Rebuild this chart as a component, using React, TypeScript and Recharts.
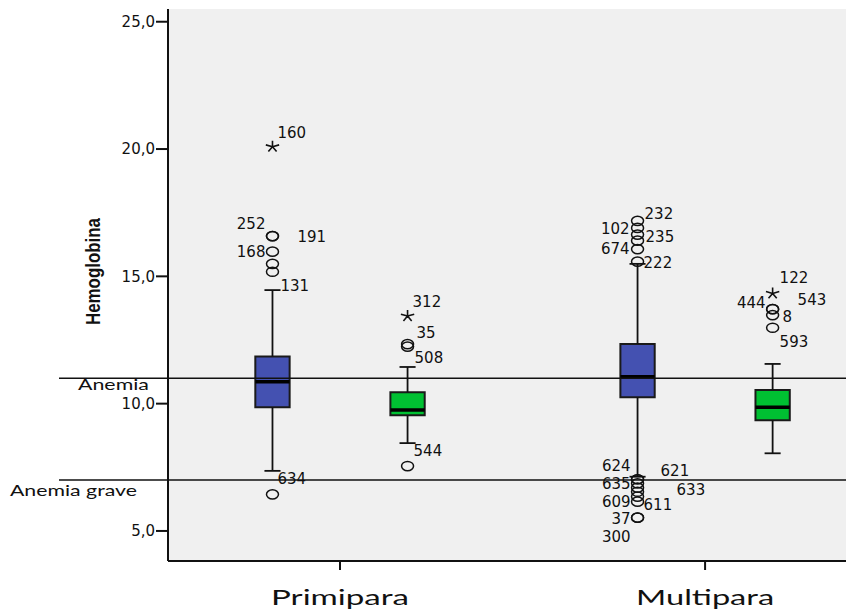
// Diagrama de caja: Hemoglobina por paridad
import React from 'react';
import {
  ComposedChart, XAxis, YAxis, CartesianGrid, ReferenceArea, ReferenceLine, Scatter,
} from 'recharts';

const GROUPS = ['Primipara', 'Multipara'];
const BOX_FILL = ['#4451b1', '#00c032'];

// una caja por entrada: primipara azul, primipara verde, multipara azul, multipara verde
const BOX_GROUP = [1, 1, 2, 2];
const BOX_SUB = [0, 1, 0, 1];
const WHISKER_LOW = [7.36, 8.45, 7.13, 8.05];
const Q1 = [9.86, 9.54, 10.25, 9.35];
const MEDIAN = [10.86, 9.75, 11.06, 9.86];
const Q3 = [11.85, 10.45, 12.34, 10.54];
const WHISKER_HIGH = [14.46, 11.44, 15.49, 11.56];

// [caja, valor, caso, extremo(*)]
const OUTLIERS: [number, number, string, boolean][] = [
  [0, 20.09, '160', true],
  [0, 16.58, '252', false],
  [0, 16.58, '191', false],
  [0, 15.97, '168', false],
  [0, 15.49, '', false],
  [0, 15.18, '131', false],
  [0, 6.44, '634', false],
  [1, 13.44, '312', true],
  [1, 12.34, '35', false],
  [1, 12.24, '508', false],
  [1, 7.55, '544', false],
  [2, 17.18, '232', false],
  [2, 16.9, '102', false],
  [2, 16.64, '235', false],
  [2, 16.4, '', false],
  [2, 16.07, '674', false],
  [2, 15.58, '222', false],
  [2, 7.03, '624', false],
  [2, 7.03, '621', false],
  [2, 6.87, '635', false],
  [2, 6.7, '633', false],
  [2, 6.54, '', false],
  [2, 6.35, '611', false],
  [2, 6.15, '609', false],
  [2, 5.52, '37', false],
  [2, 5.52, '300', false],
  [3, 14.33, '122', true],
  [3, 13.71, '444', false],
  [3, 13.71, '543', false],
  [3, 13.48, '8', false],
  [3, 12.98, '593', false],
];

const THRESHOLD_LABELS = ['Anemia', 'Anemia grave'];
const THRESHOLD_VALUES = [11, 7];
const Y_TICKS = [5, 10, 15, 20, 25];

// posición de las etiquetas de casos (px respecto al punto)
const LABEL_POS: Record<string, [number, number, string?]> = {
  '160': [5, -14], '252': [-7, -12, 'end'], '191': [25, 1], '168': [-7, 0, 'end'],
  '131': [8, 14], '634': [5, -15],
  '312': [5, -14], '35': [9, -11], '508': [7, 11], '544': [6, -15],
  '232': [7, -7], '102': [-8, 1, 'end'], '235': [8, 2], '674': [-8, 0, 'end'], '222': [6, 1],
  '624': [-7, -13, 'end'], '621': [23, -8], '635': [-7, 1, 'end'], '633': [39, 2],
  '611': [6, 8], '609': [-7, 0, 'end'], '37': [-7, 1, 'end'], '300': [-7, 19, 'end'],
  '122': [7, -15], '444': [-7, -6, 'end'], '543': [25, -9], '8': [10, 2], '593': [7, 14],
};
// etiquetas de umbral: [desplazamiento x desde el eje, línea base, ancho]
const THRESHOLD_TEXT: [number, number, number][] = [[-54.5, 12, 71], [-94.5, 16, 127]];

const X_OFF = [-0.185, 0.185];
const HALF_W = 0.047;
const CAP_W = 0.022;
const INK = '#111';
const NUM_FONT = '"DejaVu Sans", sans-serif';

const boxX = (i: number) => BOX_GROUP[i] + X_OFF[BOX_SUB[i]];

const points = OUTLIERS.map(([b, v, id, ext]) => ({ x: boxX(b), y: v, id, ext }));

function Star({ cx, cy }: { cx: number; cy: number }) {
  const arms = [-90, -18, 54, 126, 198].map(a => {
    const r = (a * Math.PI) / 180;
    return `M${cx},${cy}L${cx + 7 * Math.cos(r)},${cy + 6 * Math.sin(r)}`;
  });
  return <path d={arms.join('')} stroke={INK} strokeWidth={1.6} fill="none" />;
}

function OutlierMark(props: any) {
  const { cx, cy, payload } = props;
  const pos = LABEL_POS[payload.id];
  return (
    <g>
      {payload.ext
        ? <Star cx={cx} cy={cy} />
        : <ellipse cx={cx} cy={cy} rx={6} ry={4.6} fill="none" stroke={INK} strokeWidth={1.5} />}
      {pos && (
        <text x={cx + pos[0]} y={cy + pos[1]} dominantBaseline="central" textAnchor={pos[2] ?? 'start'}
          fontFamily={NUM_FONT} fontSize={15} fill={INK}>{payload.id}</text>
      )}
    </g>
  );
}

function XTick({ x, y, payload }: any) {
  return (
    <text x={x} y={y + 33} textAnchor="middle" fontFamily="Lato, sans-serif" fontSize={22} fill={INK}
      textLength={138} lengthAdjust="spacingAndGlyphs">{GROUPS[payload.value - 1]}</text>
  );
}

export default function App() {
  return (
    <div style={{ position: 'absolute', left: 0, top: 0, background: '#fff' }}>
      <ComposedChart width={846} height={611} margin={{ top: 9, right: 0, bottom: 0, left: 0 }}>
        <CartesianGrid fill="#f0f0f0" stroke="none" horizontal={false} vertical={false} />
        <XAxis type="number" dataKey="x" domain={[0.5288, 2.386]} ticks={[1, 2]} allowDataOverflow
          height={50} axisLine={{ stroke: INK, strokeWidth: 2 }} tickLine={{ stroke: INK, strokeWidth: 2 }}
          tickSize={9} tick={<XTick />} />
        <YAxis type="number" dataKey="y" domain={[3.82, 25.5]} ticks={Y_TICKS} allowDataOverflow width={168}
          axisLine={{ stroke: INK, strokeWidth: 2 }} tickLine={{ stroke: INK, strokeWidth: 2 }}
          tickSize={12} tickMargin={1}
          tick={{ fontFamily: NUM_FONT, fontSize: 15, fill: INK }}
          tickFormatter={(v: number) => v.toFixed(1).replace('.', ',')}
          label={{
            value: 'Hemoglobina',
            content: (p: any) => {
              const vb = p.viewBox;
              const cx = vb.x + 93;
              const cy = vb.y + 262.5;
              return (
                <text x={cx} y={cy} transform={`rotate(-90 ${cx} ${cy})`} textAnchor="middle"
                  dominantBaseline="central" fontFamily='"Liberation Sans", Arial, sans-serif'
                  fontWeight="bold" fontSize={20} fill={INK} textLength={107}
                  lengthAdjust="spacingAndGlyphs">Hemoglobina</text>
              );
            },
          }} />

        {Q1.map((q1, i) => (
          <ReferenceArea key={`box${i}`} x1={boxX(i) - HALF_W} x2={boxX(i) + HALF_W} y1={q1} y2={Q3[i]}
            fill={BOX_FILL[BOX_SUB[i]]} fillOpacity={1} stroke="#1a1a1a" strokeWidth={2} />
        ))}
        {Q1.map((q1, i) => (
          <ReferenceLine key={`wl${i}`} segment={[{ x: boxX(i), y: WHISKER_LOW[i] }, { x: boxX(i), y: q1 }]}
            stroke={INK} strokeWidth={1.8} />
        ))}
        {Q3.map((q3, i) => (
          <ReferenceLine key={`wh${i}`} segment={[{ x: boxX(i), y: q3 }, { x: boxX(i), y: WHISKER_HIGH[i] }]}
            stroke={INK} strokeWidth={1.8} />
        ))}
        {WHISKER_LOW.map((v, i) => (
          <ReferenceLine key={`cl${i}`} segment={[{ x: boxX(i) - CAP_W, y: v }, { x: boxX(i) + CAP_W, y: v }]}
            stroke={INK} strokeWidth={1.8} />
        ))}
        {WHISKER_HIGH.map((v, i) => (
          <ReferenceLine key={`ch${i}`} segment={[{ x: boxX(i) - CAP_W, y: v }, { x: boxX(i) + CAP_W, y: v }]}
            stroke={INK} strokeWidth={1.8} />
        ))}
        {MEDIAN.map((m, i) => (
          <ReferenceLine key={`md${i}`} segment={[{ x: boxX(i) - HALF_W, y: m }, { x: boxX(i) + HALF_W, y: m }]}
            stroke="#000" strokeWidth={3.5} />
        ))}

        {THRESHOLD_VALUES.map((v, i) => (
          <ReferenceLine key={`th${i}`} y={v}
            shape={(p: any) => (
              <g>
                <line x1={p.x1 - 109} y1={p.y1} x2={p.x2} y2={p.y2} stroke={INK} strokeWidth={1.6} />
                <text x={p.x1 + THRESHOLD_TEXT[i][0]} y={p.y1 + THRESHOLD_TEXT[i][1]} textAnchor="middle"
                  fontFamily="Lato, sans-serif" fontSize={16} fill={INK}
                  textLength={THRESHOLD_TEXT[i][2]} lengthAdjust="spacingAndGlyphs">{THRESHOLD_LABELS[i]}</text>
              </g>
            )} />
        ))}

        <Scatter data={points} dataKey="y" isAnimationActive={false} shape={<OutlierMark />} />
      </ComposedChart>
    </div>
  );
}
